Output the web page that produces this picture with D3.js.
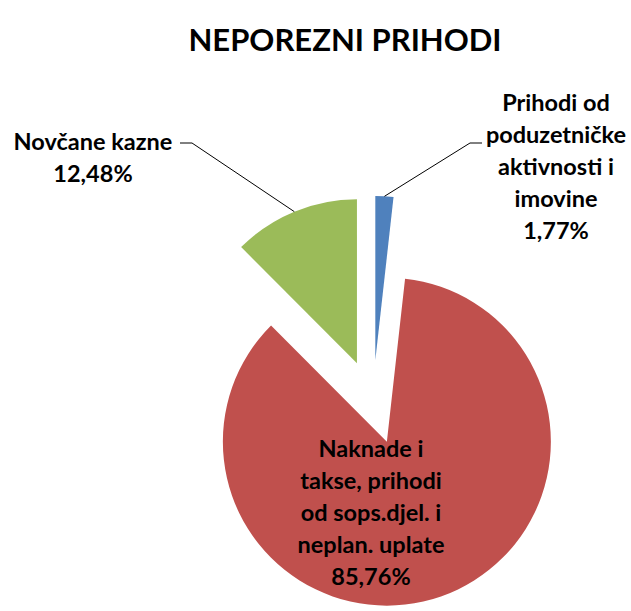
<!DOCTYPE html>
<html>
<head>
<meta charset="utf-8">
<script src="https://cdn.jsdelivr.net/npm/d3@7"></script>
<style>
  body { margin: 0; background: #fff; }
  text { font-family: Lato, "Open Sans", sans-serif; font-weight: bold; fill: #000; }
</style>
</head>
<body>
<div id="chart"></div>
<script>
// Neporezni prihodi - exploded pie

var width = 631
var height = 611

// data
var categories = ["Prihodi od poduzetničke aktivnosti i imovine",
                  "Naknade i takse, prihodi od sops.djel. i neplan. uplate",
                  "Novčane kazne"]
var values = [1.77, 85.76, 12.48]
var valueLabels = ["1,77%", "85,76%", "12,48%"]
var labelLines = [
  ["Prihodi od", "poduzetničke", "aktivnosti i", "imovine"],
  ["Naknade i", "takse, prihodi", "od sops.djel. i", "neplan. uplate"],
  ["Novčane kazne"]
]
var colors = ["#4f81bd", "#c0504d", "#9bbb59"]

var cx = 373, cy = 402, radius = 164, explode = 42

var svg = d3.select("#chart")
  .append("svg")
    .attr("width", width)
    .attr("height", height)

svg.append("text")
  .attr("x", 345)
  .attr("y", 51)
  .attr("text-anchor", "middle")
  .style("font-size", "31px")
  .text("NEPOREZNI PRIHODI")

var data = categories.map(function(c, i){ return {name: c, value: values[i], i: i} })

var pie = d3.pie().sort(null).value(function(d){ return d.value })
var arc = d3.arc().innerRadius(0).outerRadius(radius)
var arcs = pie(data)

// offset of each exploded slice along its mid angle
function shift(d, dist) {
  var a = (d.startAngle + d.endAngle) / 2
  return [cx + Math.sin(a) * dist, cy - Math.cos(a) * dist]
}

var g = svg.append("g")
g.selectAll("path")
  .data(arcs)
  .enter()
  .append("path")
    .attr("d", arc)
    .attr("transform", function(d){ var p = shift(d, explode); return "translate(" + p[0] + "," + p[1] + ")" })
    .style("fill", function(d){ return colors[d.data.i] })

// outside labels (blue and green), inside label (red)
var labelPos = [
  {x: 556, y: 111, lead: [482, 143]},
  {x: 371, y: 457},
  {x: 93, y: 150, lead: [180, 143]}
]

arcs.forEach(function(d){
  var i = d.data.i
  var lp = labelPos[i]
  var lines = labelLines[i].concat([valueLabels[i]])
  var t = svg.append("text")
    .attr("text-anchor", "middle")
    .style("font-size", "23.5px")
  lines.forEach(function(l, k){
    t.append("tspan").attr("x", lp.x).attr("y", lp.y + k * 32).text(l)
  })
  if (lp.lead) {
    var edge = shift(d, explode + radius)
    var dx = i === 0 ? -12 : 12
    svg.append("path")
      .attr("d", "M" + edge[0] + "," + edge[1] + "L" + (lp.lead[0] + dx) + "," + lp.lead[1] + "L" + lp.lead[0] + "," + lp.lead[1])
      .style("fill", "none")
      .style("stroke", "#000")
      .style("stroke-width", 1)
  }
})
</script>
</body>
</html>
